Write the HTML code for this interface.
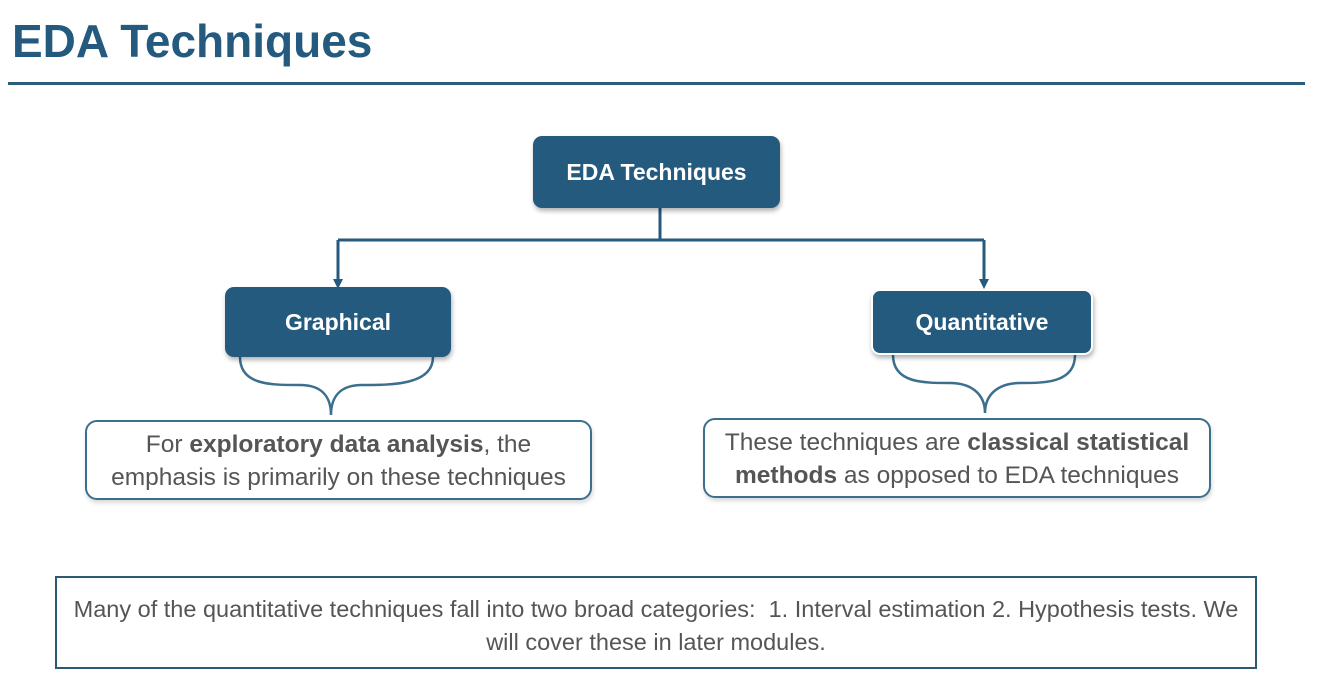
<!DOCTYPE html>
<html><head><style>
body{margin:0;width:1318px;height:682px;background:#fff;position:relative;overflow:hidden;font-family:"Liberation Sans",sans-serif}
.t{position:absolute;left:12px;top:14px;font-size:46px;font-weight:bold;color:#245a7e;letter-spacing:0px}
.hr{position:absolute;left:8px;top:82px;width:1297px;height:3px;background:#2b5d7d}
.b{position:absolute;background:#245a7e;color:#fff;font-weight:bold;font-size:23px;display:flex;align-items:center;justify-content:center;border-radius:9px;box-shadow:1px 3px 5px rgba(0,0,0,.3)}
.tb{position:absolute;border:2px solid #3b6f8e;border-radius:12px;color:#555;font-size:24.5px;text-align:center;line-height:33px;box-sizing:border-box;padding-top:6px;box-shadow:1px 3px 4px rgba(0,0,0,.15)}
.tb b{color:#555}
.bot{position:absolute;left:55px;top:576px;width:1202px;height:93px;border:2px solid #2d5a73;box-sizing:border-box;color:#555;font-size:23.5px;text-align:center;line-height:33px;padding-top:15px}
</style></head><body>
<div class="t">EDA Techniques</div>
<div class="hr"></div>
<svg width="1318" height="682" style="position:absolute;left:0;top:0">
<g fill="none" stroke="#245a7e" stroke-width="3">
<path d="M660 208V240M338 240H984M338 240V280M984 240V280"/>
</g>
<polygon points="333,279 343,279 338,289" fill="#245a7e"/>
<polygon points="979,279 989,279 984,289" fill="#245a7e"/>
<g fill="none" stroke="#3b6f8e" stroke-width="2.5">
<path d="M240 357 C240 385 270 385 300 385 C320 385 331 395 331 415 C331 395 342 385 362 385 C392 385 433 385 433 357"/>
<path d="M893 355 C893 383 923 383 950 383 C970 383 985 393 985 413 C985 393 1000 383 1020 383 C1045 383 1075 383 1075 355"/>
</g>
</svg>
<div class="b" style="left:533px;top:136px;width:247px;height:72px">EDA Techniques</div>
<div class="b" style="left:225px;top:287px;width:226px;height:70px">Graphical</div>
<div class="b" style="left:871px;top:289px;width:222px;height:66px;border:2px solid #fff;box-sizing:border-box">Quantitative</div>
<div class="tb" style="left:85px;top:420px;width:507px;height:80px">For <b>exploratory data analysis</b>, the<br>emphasis is primarily on these techniques</div>
<div class="tb" style="left:703px;top:418px;width:508px;height:80px">These techniques are <b>classical statistical<br>methods</b> as opposed to EDA techniques</div>
<div class="bot">Many of the quantitative techniques fall into two broad categories:&nbsp; 1. Interval estimation 2. Hypothesis tests. We<br>will cover these in later modules.</div>
</body></html>
